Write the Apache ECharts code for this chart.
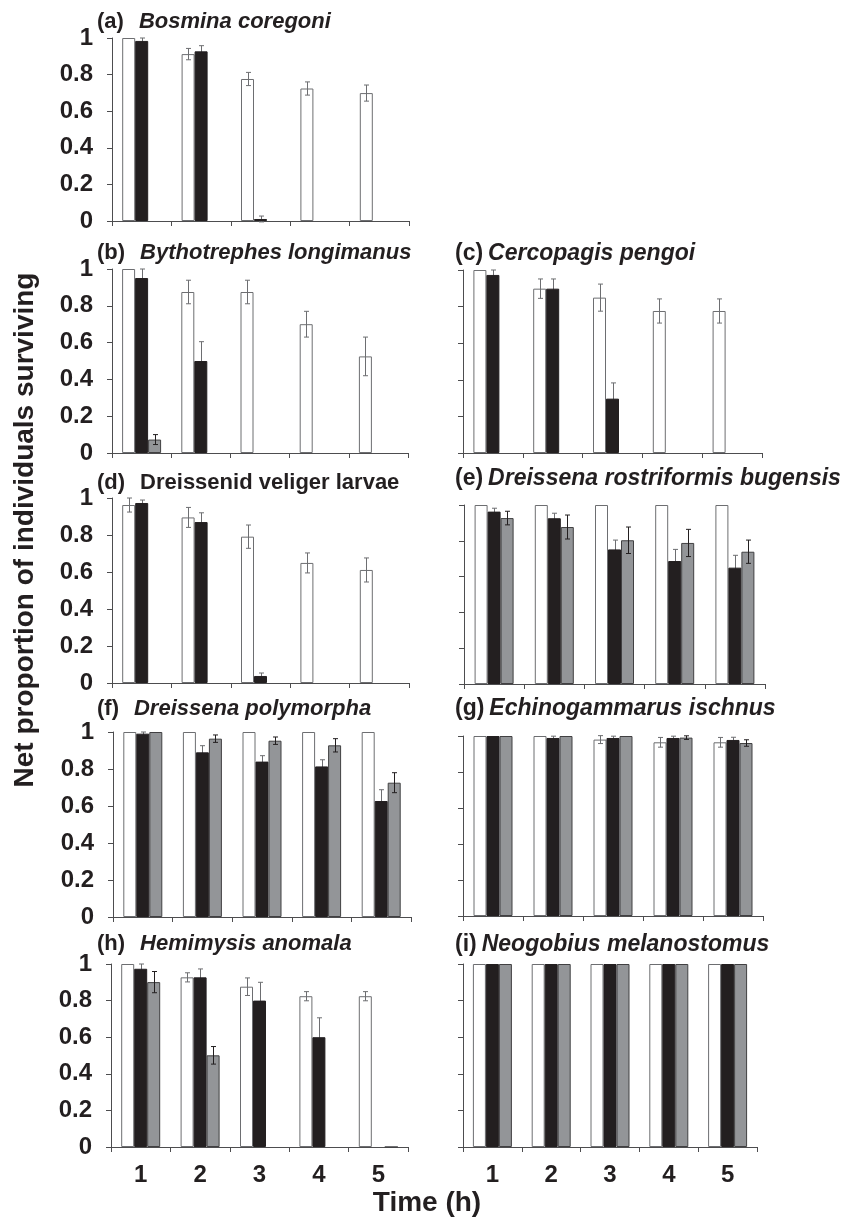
<!DOCTYPE html>
<html><head><meta charset="utf-8">
<script src="https://cdn.jsdelivr.net/npm/echarts@6/dist/echarts.min.js"></script>
<style>html,body{margin:0;padding:0;background:#fff}#c{width:853px;height:1220px}</style>
</head><body><div id="c"></div>
<script>
const categories = ['1', '2', '3', '4', '5'];
const yMin = 0, yMax = 1, yStep = 0.2;

// (a) Bosmina coregoni
const aWhite = [1.00, 0.912, 0.776, 0.724, 0.699];
const aWhiteErr = [null, 0.031, 0.036, 0.036, 0.044];
const aBlack = [0.984, 0.927, 0.011, null, null];
const aBlackErr = [0.016, 0.031, 0.016, null, null];
const aGray = [null, null, null, null, null];
const aGrayErr = [null, null, null, null, null];
// (b) Bythotrephes longimanus
const bWhite = [1.00, 0.875, 0.875, 0.700, 0.525];
const bWhiteErr = [null, 0.064, 0.064, 0.070, 0.105];
const bBlack = [0.951, 0.500, null, null, null];
const bBlackErr = [0.049, 0.105, null, null, null];
const bGray = [0.073, null, null, null, null];
const bGrayErr = [0.027, null, null, null, null];
// (c) Cercopagis pengoi
const cWhite = [1.00, 0.898, 0.849, 0.776, 0.776];
const cWhiteErr = [null, 0.053, 0.074, 0.066, 0.066];
const cBlack = [0.973, 0.898, 0.297, null, null];
const cBlackErr = [0.027, 0.053, 0.086, null, null];
const cGray = [null, null, null, null, null];
const cGrayErr = [null, null, null, null, null];
// (d) Dreissenid veliger larvae
const dWhite = [0.962, 0.895, 0.791, 0.649, 0.611];
const dWhiteErr = [0.038, 0.054, 0.063, 0.054, 0.065];
const dBlack = [0.973, 0.870, 0.038, null, null];
const dBlackErr = [0.016, 0.050, 0.016, null, null];
const dGray = [null, null, null, null, null];
const dGrayErr = [null, null, null, null, null];
// (e) Dreissena rostriformis bugensis
const eWhite = [1.00, 1.00, 1.00, 1.00, 1.00];
const eWhiteErr = [null, null, null, null, null];
const eBlack = [0.963, 0.926, 0.752, 0.687, 0.650];
const eBlackErr = [0.019, 0.028, 0.052, 0.065, 0.069];
const eGray = [0.927, 0.877, 0.803, 0.788, 0.739];
const eGrayErr = [0.038, 0.067, 0.074, 0.076, 0.065];
// (f) Dreissena polymorpha
const fWhite = [1.00, 1.00, 1.00, 1.00, 1.00];
const fWhiteErr = [null, null, null, null, null];
const fBlack = [0.991, 0.890, 0.840, 0.814, 0.627];
const fBlackErr = [0.009, 0.036, 0.032, 0.036, 0.061];
const fGray = [1.00, 0.964, 0.953, 0.928, 0.726];
const fGrayErr = [null, 0.020, 0.020, 0.036, 0.054];
// (g) Echinogammarus ischnus
const gWhite = [1.00, 1.00, 0.980, 0.965, 0.965];
const gWhiteErr = [null, null, 0.022, 0.027, 0.027];
const gBlack = [1.00, 0.989, 0.989, 0.989, 0.978];
const gBlackErr = [null, 0.010, 0.010, 0.010, 0.015];
const gGray = [1.00, 1.00, 1.00, 0.991, 0.961];
const gGrayErr = [null, null, null, 0.010, 0.018];
// (h) Hemimysis anomala
const hWhite = [1.00, 0.927, 0.876, 0.824, 0.824];
const hWhiteErr = [null, 0.025, 0.048, 0.025, 0.025];
const hBlack = [0.974, 0.927, 0.800, 0.600, null];
const hBlackErr = [0.026, 0.046, 0.100, 0.106, null];
const hGray = [0.901, 0.501, null, null, 0];
const hGrayErr = [0.058, 0.048, null, null, null];
// (i) Neogobius melanostomus
const iWhite = [1.00, 1.00, 1.00, 1.00, 1.00];
const iWhiteErr = [null, null, null, null, null];
const iBlack = [1.00, 1.00, 1.00, 1.00, 1.00];
const iBlackErr = [null, null, null, null, null];
const iGray = [1.00, 1.00, 1.00, 1.00, 1.00];
const iGrayErr = [null, null, null, null, null];

const FONT = '"Liberation Sans", Arial, Helvetica, sans-serif';
const INK = '#231f20';
const BAR_W = 13;

const panels = [
  { tag: '(a)', name: 'Bosmina coregoni', italic: true, side: 'L', grid: [112, 38, 297, 183], tpos: [97, 22],
    s: [[aWhite, aWhiteErr], [aBlack, aBlackErr], [aGray, aGrayErr]] },
  { tag: '(b)', name: 'Bythotrephes longimanus', italic: true, side: 'L', grid: [112, 269, 296, 184], tpos: [97, 253],
    s: [[bWhite, bWhiteErr], [bBlack, bBlackErr], [bGray, bGrayErr]] },
  { tag: '(c)', name: 'Cercopagis pengoi', italic: true, side: 'R', grid: [463, 270, 299, 183], tpos: [455, 254],
    s: [[cWhite, cWhiteErr], [cBlack, cBlackErr], [cGray, cGrayErr]] },
  { tag: '(d)', name: 'Dreissenid veliger larvae', italic: false, side: 'L', grid: [112, 498, 297, 185], tpos: [97, 483],
    s: [[dWhite, dWhiteErr], [dBlack, dBlackErr], [dGray, dGrayErr]] },
  { tag: '(e)', name: 'Dreissena rostriformis bugensis', italic: true, side: 'R', grid: [464, 505, 301, 179], tpos: [455, 479],
    s: [[eWhite, eWhiteErr], [eBlack, eBlackErr], [eGray, eGrayErr]] },
  { tag: '(f)', name: 'Dreissena polymorpha', italic: true, side: 'L', grid: [113, 732, 298, 185], tpos: [97, 709],
    s: [[fWhite, fWhiteErr], [fBlack, fBlackErr], [fGray, fGrayErr]] },
  { tag: '(g)', name: 'Echinogammarus ischnus', italic: true, side: 'R', grid: [463, 736, 300, 180], tpos: [455, 709],
    s: [[gWhite, gWhiteErr], [gBlack, gBlackErr], [gGray, gGrayErr]] },
  { tag: '(h)', name: 'Hemimysis anomala', italic: true, side: 'L', grid: [111, 964, 297, 183], tpos: [97, 944], xLabels: true,
    s: [[hWhite, hWhiteErr], [hBlack, hBlackErr], [hGray, hGrayErr]] },
  { tag: '(i)', name: 'Neogobius melanostomus', italic: true, side: 'R', grid: [463, 964, 294, 183], tpos: [455, 945], xLabels: true,
    s: [[iWhite, iWhiteErr], [iBlack, iBlackErr], [iGray, iGrayErr]] }
];

const barStyles = [
  { color: '#ffffff', borderColor: '#6d6e71', borderWidth: 1 },
  { color: INK, borderColor: INK, borderWidth: 1 },
  { color: '#939598', borderColor: '#414042', borderWidth: 1 }
];
const errColors = ['#6d6e71', '#6d6e71', '#231f20'];
const errZ = [4, 1, 4];

function errRender(k, color) {
  return function (params, api) {
    const idx = api.value(0), v = api.value(1), e = api.value(2);
    const top = api.coord([idx, v + e]);
    const bot = api.coord([idx, v - e]);
    const x = Math.round(top[0] + (k - 1) * BAR_W) + 0.5;
    const cap = 2.5;
    const st = { stroke: color, lineWidth: 1 };
    return { type: 'group', children: [
      { type: 'line', shape: { x1: x, y1: top[1], x2: x, y2: bot[1] }, style: st },
      { type: 'line', shape: { x1: x - cap, y1: top[1], x2: x + cap, y2: top[1] }, style: st },
      { type: 'line', shape: { x1: x - cap, y1: bot[1], x2: x + cap, y2: bot[1] }, style: st }
    ] };
  };
}

const grids = [], xAxes = [], yAxes = [], series = [], graphics = [];
panels.forEach((p, i) => {
  grids.push({ left: p.grid[0], top: p.grid[1], width: p.grid[2], height: p.grid[3], containLabel: false });
  xAxes.push({
    type: 'category', gridIndex: i, data: categories,
    axisLine: { show: true, lineStyle: { color: '#4d4d4f', width: 1 } },
    axisTick: { show: true, length: 5, interval: 0, alignWithLabel: false, lineStyle: { color: '#4d4d4f' } },
    axisLabel: { show: !!p.xLabels, interval: 0, margin: 16, color: INK, fontFamily: FONT, fontWeight: 'bold', fontSize: 24 },
    splitLine: { show: false }
  });
  yAxes.push({
    type: 'value', gridIndex: i, min: yMin, max: yMax, interval: yStep,
    axisLine: { show: true, lineStyle: { color: '#4d4d4f', width: 1 } },
    axisTick: { show: true, length: 5, lineStyle: { color: '#4d4d4f' } },
    axisLabel: { show: p.side === 'L', margin: 19, color: INK, fontFamily: FONT, fontWeight: 'bold', fontSize: 24 },
    splitLine: { show: false }
  });
  p.s.forEach((pair, k) => {
    const vals = pair[0], errs = pair[1];
    series.push({
      type: 'bar', xAxisIndex: i, yAxisIndex: i, barWidth: BAR_W, barGap: '0%', z: 2,
      itemStyle: barStyles[k], silent: true, animation: false,
      data: vals.map(v => (v === null ? '-' : v))
    });
    const ed = [];
    vals.forEach((v, j) => { if (v !== null && errs[j] !== null) ed.push([j, v, errs[j]]); });
    series.push({
      type: 'custom', xAxisIndex: i, yAxisIndex: i, z: errZ[k], silent: true, animation: false,
      renderItem: errRender(k, errColors[k]), data: ed, clip: false
    });
  });
  const gap = p.side === 'L' ? 15 : 5;
  const fs = p.side === 'L' ? 22 : 23;
  graphics.push({
    type: 'text', x: p.tpos[0], y: p.tpos[1], silent: true,
    style: {
      text: '{t|' + p.tag + '}{s|' + p.name + '}', verticalAlign: 'middle', align: 'left',
      rich: {
        t: { fontFamily: FONT, fontWeight: 'bold', fontSize: fs, fill: INK, color: INK, padding: [0, gap, 0, 0] },
        s: { fontFamily: FONT, fontWeight: 'bold', fontStyle: p.italic ? 'italic' : 'normal', fontSize: fs, fill: INK, color: INK }
      }
    }
  });
});

graphics.push({
  type: 'text', x: 25, y: 530, rotation: Math.PI / 2, silent: true,
  style: { text: 'Net proportion of individuals surviving', align: 'center', verticalAlign: 'middle',
    fontFamily: FONT, fontWeight: 'bold', fontSize: 28, fill: INK }
});
graphics.push({
  type: 'text', x: 427, y: 1203, silent: true,
  style: { text: 'Time (h)', align: 'center', verticalAlign: 'middle',
    fontFamily: FONT, fontWeight: 'bold', fontSize: 28, fill: INK }
});

const chart = echarts.init(document.getElementById('c'), null, { renderer: 'canvas' });
chart.setOption({
  backgroundColor: '#ffffff',
  animation: false,
  grid: grids, xAxis: xAxes, yAxis: yAxes, series: series, graphic: graphics
});
</script></body></html>
